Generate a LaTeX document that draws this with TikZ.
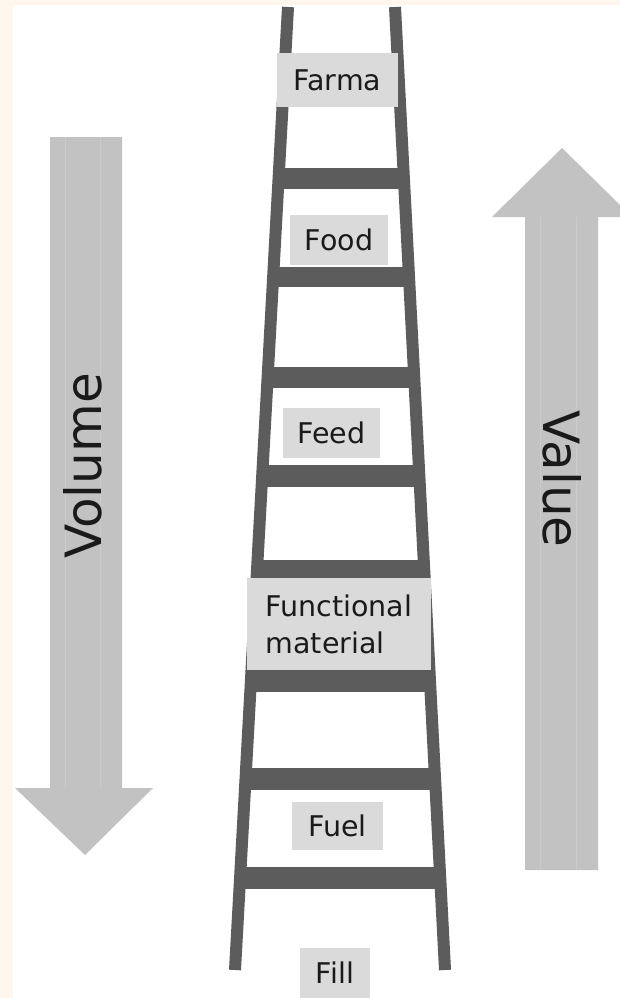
\documentclass[tikz,border=0pt]{standalone}
\usepackage{fontspec}
\setmainfont{DejaVu Sans}
\definecolor{cream}{HTML}{FFF7EE}
\definecolor{railgray}{HTML}{5C5C5C}
\definecolor{boxgray}{HTML}{DADADA}
\definecolor{arrowgray}{HTML}{C2C2C2}
\definecolor{inkgray}{HTML}{1A1A1A}
\tikzset{
  rungbox/.style={fill=boxgray, inner sep=0pt, text=inkgray, font=\fontsize{28.5}{37}\selectfont},
  bigword/.style={text=inkgray, font=\fontsize{50}{58}\selectfont},
  rail/.style={draw=railgray, line width=12pt, line cap=butt},
}
\begin{document}
\begin{tikzpicture}[x=1pt, y=-1pt, line join=round]
\fill[cream] (0,0) rectangle (620,998);
\fill[white] (13,5) rectangle (620,998);
\useasboundingbox (0,0) rectangle (620,998);
% arrows
\fill[arrowgray] (50,137) -- (122,137) -- (122,788) -- (153,788) -- (85,855) -- (15,788) -- (50,788) -- cycle;
\fill[arrowgray] (525,870) -- (598,870) -- (598,217) -- (620,217) -- (620,205) -- (562,148) -- (492,217) -- (525,217) -- cycle;
\foreach \x in {65,100}
  \draw[white, opacity=0.15, line width=1pt] (\x,137) -- (\x,788);
\foreach \x in {540,576}
  \draw[white, opacity=0.15, line width=1pt] (\x,217) -- (\x,870);
\node[bigword, rotate=90] (volume) at (83,466) {Volume};
\node[bigword, rotate=-90] (value) at (562,479) {Value};
% ladder
\path (288,7) coordinate (LT)
  (235,970) coordinate (LB)
  (395,7) coordinate (RT)
  (445,970) coordinate (RB);
\begin{scope}
  \clip (LT) -- (RT) -- (RB) -- (LB) -- cycle;
  \foreach \a/\b in {168/189,267/287,367/388,465/487,560/578,670/692,768/790,867/889}
    \fill[railgray] (200,\a) rectangle (480,\b);
\end{scope}
\draw[rail] (LT) -- (LB);
\draw[rail] (RT) -- (RB);
% labels on the rungs
\node[rungbox, minimum width=121pt, minimum height=54pt] (farma) at (337.5,80) {Farma};
\node[rungbox, minimum width=98pt, minimum height=50pt] (food) at (339,240) {Food};
\node[rungbox, minimum width=97pt, minimum height=50pt] (feed) at (331.5,433) {Feed};
\node[rungbox, minimum width=184pt, minimum height=92pt, align=left] (functional) at (339,624) {Functional\\material};
\node[rungbox, minimum width=91pt, minimum height=48pt] (fuel) at (337.5,826) {Fuel};
\node[rungbox, minimum width=70pt, minimum height=50pt] (fill) at (335,973) {Fill};
\end{tikzpicture}
\end{document}
